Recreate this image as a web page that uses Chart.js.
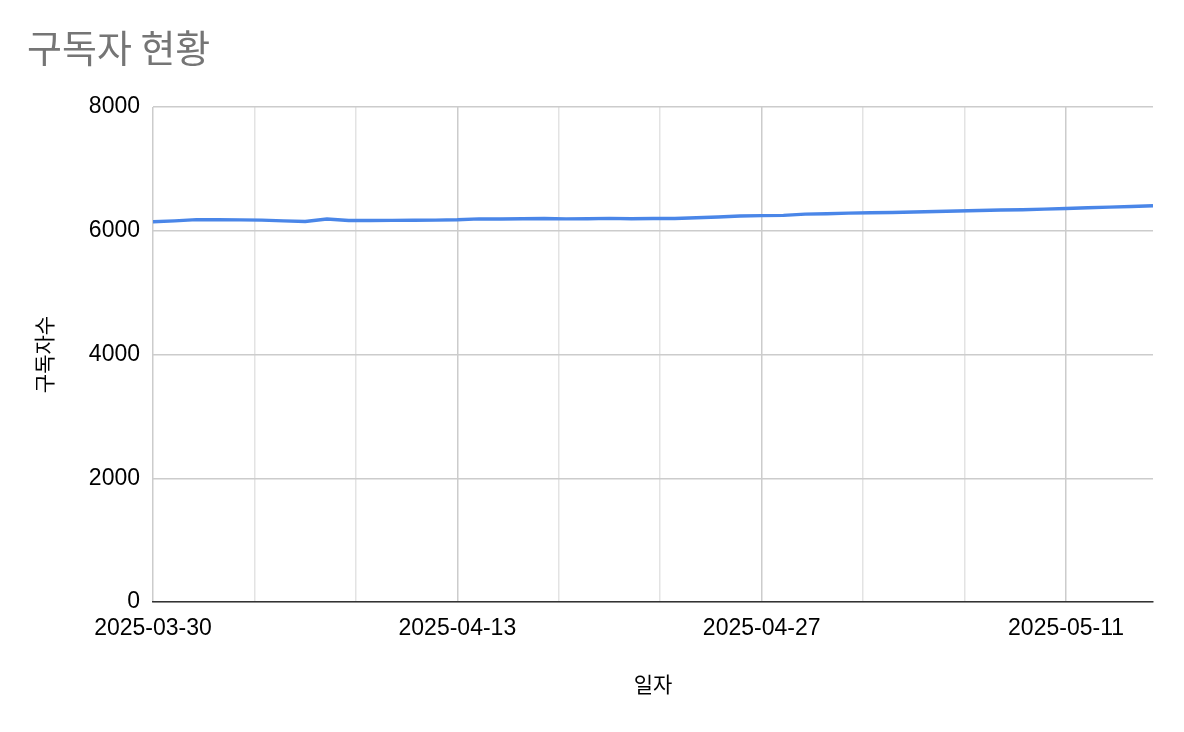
<!DOCTYPE html>
<html lang="ko">
<head>
<meta charset="utf-8">
<title>구독자 현황</title>
<script src="https://cdn.jsdelivr.net/npm/chart.js@4.4.1/dist/chart.umd.min.js"></script>
<style>
  html, body { margin: 0; padding: 0; background: #fff; }
  #wrap { width: 1184px; height: 732px; }
</style>
</head>
<body>
<div id="wrap"><canvas id="subChart" width="1184" height="732"></canvas></div>
<script>
// 일자 (2025-03-30 ~ 2025-05-15)
const dates = [
  '2025-03-30', '2025-03-31', '2025-04-01', '2025-04-02', '2025-04-03', '2025-04-04', '2025-04-05',
  '2025-04-06', '2025-04-07', '2025-04-08', '2025-04-09', '2025-04-10', '2025-04-11', '2025-04-12',
  '2025-04-13', '2025-04-14', '2025-04-15', '2025-04-16', '2025-04-17', '2025-04-18', '2025-04-19',
  '2025-04-20', '2025-04-21', '2025-04-22', '2025-04-23', '2025-04-24', '2025-04-25', '2025-04-26',
  '2025-04-27', '2025-04-28', '2025-04-29', '2025-04-30', '2025-05-01', '2025-05-02', '2025-05-03',
  '2025-05-04', '2025-05-05', '2025-05-06', '2025-05-07', '2025-05-08', '2025-05-09', '2025-05-10',
  '2025-05-11', '2025-05-12', '2025-05-13', '2025-05-14', '2025-05-15'
];

// 구독자수
const subscribers = [
  6145, 6160, 6180, 6178, 6175, 6172, 6160,
  6150, 6190, 6165, 6165, 6168, 6170, 6172,
  6178, 6192, 6190, 6193, 6198, 6192, 6195,
  6200, 6195, 6198, 6198, 6210, 6222, 6238,
  6245, 6248, 6268, 6275, 6285, 6290, 6295,
  6302, 6312, 6320, 6328, 6335, 6340, 6350,
  6360, 6372, 6382, 6392, 6405
];

// 축 눈금
const yTicks = [0, 2000, 4000, 6000, 8000];
const majorEvery = 14;          // 라벨이 붙는 주 눈금 간격 (일)
const minorPerMajor = 3;        // 주 눈금 사이를 3등분

const points = subscribers.map((v, i) => ({ x: i, y: v }));

const ctx = document.getElementById('subChart').getContext('2d');

function isMajor(value) {
  const r = Math.round(value);
  return Math.abs(value - r) < 1e-6 && r % majorEvery === 0;
}

new Chart(ctx, {
  type: 'line',
  data: {
    datasets: [{
      label: '구독자수',
      data: points,
      borderColor: '#4a86e8',
      borderWidth: 3.4,
      pointRadius: 0,
      tension: 0,
      fill: false
    }]
  },
  options: {
    responsive: false,
    animation: false,
    layout: {
      padding: { left: 27, right: 31, top: 0, bottom: 20 }
    },
    plugins: {
      legend: { display: false },
      tooltip: { enabled: false },
      title: {
        display: true,
        text: '구독자 현황',
        align: 'start',
        color: '#757575',
        font: { family: "'Noto Sans CJK KR', 'Liberation Sans', sans-serif", size: 38, weight: 'normal' },
        padding: { top: 25, bottom: 36.4 }
      }
    },
    scales: {
      x: {
        type: 'linear',
        min: 0,
        max: dates.length - 1,
        afterBuildTicks: (scale) => {
          const ticks = [];
          const step = majorEvery / minorPerMajor;
          for (let i = 0; i * step <= scale.max; i++) {
            ticks.push({ value: i * majorEvery / minorPerMajor });
          }
          scale.ticks = ticks;
        },
        afterFit: (scale) => { scale.height = 110; },
        ticks: {
          autoSkip: false,
          maxRotation: 0,
          color: '#000',
          padding: 13,
          font: { family: "'Liberation Sans', Arial, sans-serif", size: 23 },
          callback: (value) => isMajor(value) ? dates[Math.round(value)] : ''
        },
        grid: {
          drawTicks: false,
          color: (c) => (c.tick && isMajor(c.tick.value)) ? '#cccccc' : '#e3e3e3',
          lineWidth: 1.5
        },
        border: { display: true, color: '#333333', width: 1.5 },
        title: {
          display: true,
          text: '일자',
          color: '#000',
          font: { family: "'Noto Sans CJK KR', sans-serif", size: 21 },
          padding: { top: 16, bottom: 15 }
        }
      },
      y: {
        min: 0,
        max: 8000,
        afterBuildTicks: (scale) => {
          scale.ticks = yTicks.map(v => ({ value: v }));
        },
        afterFit: (scale) => { scale.width = 126; },
        ticks: {
          color: '#000',
          padding: 13,
          font: { family: "'Liberation Sans', Arial, sans-serif", size: 23 },
          callback: (value) => String(value)
        },
        grid: {
          drawTicks: false,
          color: '#cccccc',
          lineWidth: 1.5
        },
        border: { display: false },
        title: {
          display: true,
          text: '구독자수',
          color: '#000',
          font: { family: "'Noto Sans CJK KR', sans-serif", size: 21 },
          padding: { bottom: 10 }
        }
      }
    }
  }
});
</script>
</body>
</html>
